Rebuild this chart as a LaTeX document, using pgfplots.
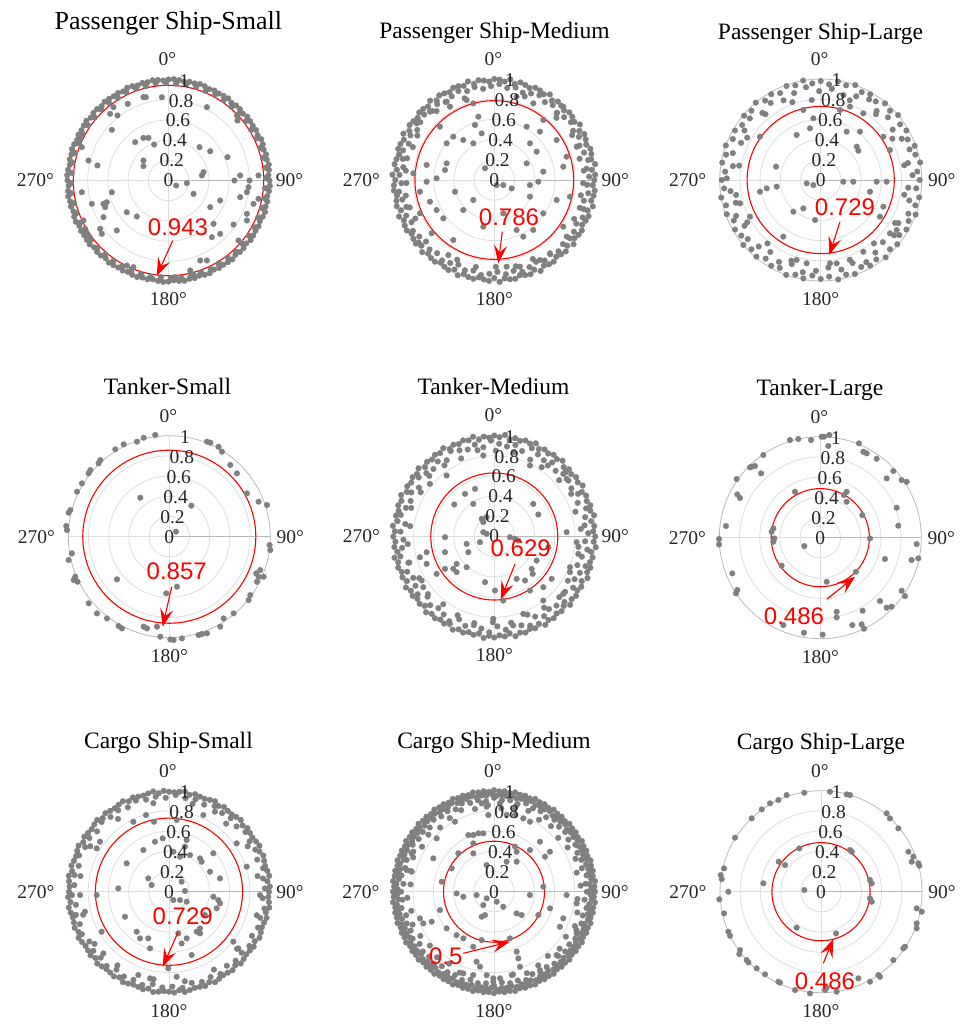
\documentclass[border=0pt]{standalone}
\usepackage{pgfplots}
\pgfplotsset{compat=1.18}
\usepgfplotslibrary{polar}
\usepackage{pgfplotstable}
\usetikzlibrary{arrows.meta}
\usepackage{fontspec}
\setmainfont{Liberation Serif}
\newfontfamily\arial{Liberation Sans}
\definecolor{dotgray}{RGB}{128,128,128}
\definecolor{gridgray}{RGB}{222,222,222}
\definecolor{axgray}{RGB}{185,185,185}
\definecolor{ticktext}{RGB}{38,38,38}

\pgfplotsset{
  pp/.style={
    width=202pt, height=202pt, scale only axis, anchor=center,
    ymin=0, ymax=1, xmin=0, xmax=360,
    xtick={0,90,180,270}, xticklabels={,,,},
    ytick={0.2,0.4,0.6,0.8}, yticklabels={,,,},
    grid=major,
    major grid style={draw=gridgray, line width=0.8pt},
    axis line style={draw=axgray, line width=0.8pt},
    major tick length=0pt,
    clip=false,
  },
  dots/.style={only marks, mark=*, mark size=2.8pt, color=dotgray, mark options={draw=none,fill=dotgray}},
  rc/.style={red, line width=1.1pt, no marks},
}
\tikzset{
  alab/.style={font=\fontsize{19.5}{20}\selectfont, text=ticktext, inner sep=0pt},
  tlab/.style={font=\fontsize{23.5}{24}\selectfont, anchor=base, inner sep=0pt},
  rlab/.style={font=\arial\fontsize{24}{24}\selectfont, text=red, inner sep=0pt},
  rarr/.style={red, line width=1.1pt, -{Stealth[length=18pt,width=13pt,inset=7pt]}},
}
\newcommand{\alabels}[2]{%
\begin{scope}[shift={(#1pt,-#2pt)}]
 \node[alab] at (-1pt,121pt) {0°};
 \node[alab] at (0pt,-119pt) {180°};
 \node[alab] at (121pt,0pt) {90°};
 \node[alab] at (-133pt,0pt) {270°};
 \node[alab] at (0pt,0pt) {0};
 \node[alab] at (3.2pt,20pt) {0.2};
 \node[alab] at (6.3pt,39.9pt) {0.4};
 \node[alab] at (9.5pt,59.9pt) {0.6};
 \node[alab] at (12.6pt,79.8pt) {0.8};
 \node[alab] at (15.8pt,99.8pt) {1};
\end{scope}}

\pgfplotstableread[row sep=\\]{a r\\0 1\\5 1\\10 1\\15 1\\20 1\\25 1\\30 1\\35 1\\40 1\\45 1\\50 1\\55 1\\60 1\\65 1\\70 1\\75 1\\80 1\\85 1\\90 1\\95 1\\100 1\\105 1\\110 1\\115 1\\120 1\\125 1\\130 1\\135 1\\140 1\\145 1\\150 1\\155 1\\160 1\\165 1\\170 1\\175 1\\180 1\\185 1\\190 1\\195 1\\200 1\\205 1\\210 1\\215 1\\220 1\\225 1\\230 1\\235 1\\240 1\\245 1\\250 1\\255 1\\260 1\\265 1\\270 1\\275 1\\280 1\\285 1\\290 1\\295 1\\300 1\\305 1\\310 1\\315 1\\320 1\\325 1\\330 1\\335 1\\340 1\\345 1\\350 1\\355 1\\360 1\\}\circangles

\begin{document}
\begin{tikzpicture}
\path[use as bounding box] (0,0) rectangle (962pt,-1025pt);

% ---------------- Passenger Ship-Small
\begin{polaraxis}[pp, at={(168.5pt,-180.5pt)}]
\addplot[dots] coordinates {(0,1)(3,.99)(6,1)(9,1.005)(12,.995)(15,1)(18,.99)(21,1)(24,1.005)(27,.99)(30,1)(33,.995)(36,1)(39,1.005)(42,.99)(45,1)(48,1)(51,.99)(54,1.005)(57,1)(60,.995)(63,1)(66,.99)(69,1)(72,1.005)(75,.995)(78,1)(81,.99)(84,1)(87,1.005)(90,1)(93,.99)(96,1)(99,1.005)(102,.995)(105,1)(108,.99)(111,1)(114,1.005)(117,.99)(120,1)(123,.995)(126,1)(129,1.005)(132,.99)(135,1)(138,1)(141,.99)(144,1.005)(147,1)(150,.995)(153,1)(156,.99)(159,1)(162,1.005)(165,.995)(168,1)(171,.99)(174,1)(177,1.005)(180,1)(183,.99)(186,1)(189,1.005)(192,.995)(195,1)(198,.99)(201,1)(204,1.005)(207,.99)(210,1)(213,.995)(216,1)(219,1.005)(222,.99)(225,1)(228,1)(231,.99)(234,1.005)(237,1)(240,.995)(243,1)(246,.99)(249,1)(252,1.005)(255,.995)(258,1)(261,.99)(264,1)(267,1.005)(270,1)(273,.99)(276,1)(279,1.005)(282,.995)(285,1)(288,.99)(291,1)(294,1.005)(297,.99)(300,1)(303,.995)(306,1)(309,1.005)(312,.99)(315,1)(318,1)(321,.99)(324,1.005)(327,1)(330,.995)(333,1)(336,.99)(339,1)(342,1.005)(345,.995)(348,1)(351,.99)(354,1)(357,1.005)
(1.5,.965)(7.5,.97)(13.5,.96)(19.5,.965)(25.5,.97)(31.5,.96)(37.5,.965)(43.5,.97)(49.5,.96)(55.5,.965)(61.5,.97)(67.5,.96)(73.5,.965)(79.5,.97)(85.5,.96)(91.5,.965)(97.5,.97)(103.5,.96)(109.5,.965)(115.5,.97)(121.5,.96)(127.5,.965)(133.5,.97)(139.5,.96)(145.5,.965)(151.5,.97)(157.5,.96)(163.5,.965)(169.5,.97)(175.5,.96)(181.5,.965)(187.5,.97)(193.5,.96)(199.5,.965)(205.5,.97)(211.5,.96)(217.5,.965)(223.5,.97)(229.5,.96)(235.5,.965)(241.5,.97)(247.5,.96)(253.5,.965)(259.5,.97)(265.5,.96)(271.5,.965)(277.5,.97)(283.5,.96)(289.5,.965)(295.5,.97)(301.5,.96)(307.5,.965)(313.5,.97)(319.5,.96)(325.5,.965)(331.5,.97)(337.5,.96)(343.5,.965)(349.5,.97)(355.5,.96)};
\addplot[dots, data cs=cart] coordinates {(-0.248,0.825)(-0.224,0.825)(-0.066,0.825)(-0.545,0.726)(-0.578,0.660)(-0.505,0.644)(-0.403,0.759)(-0.561,0.502)(-0.858,0.330)(-0.875,0.413)(-0.330,0.380)(-0.248,0.422)(-0.198,0.422)(-0.142,0.356)(-0.248,0.198)(-0.248,0.142)(-0.792,0.198)(-0.703,0.149)(0.380,0.726)(0.677,0.644)(0.683,0.594)(0.307,0.330)(0.413,0.290)(0.584,0.231)(0.347,0.083)(0.330,0.050)(0.710,0.050)(0.802,0.0)(0.891,0.050)(0.653,0.0)(0.792,-0.066)(0.776,-0.116)(0.710,-0.165)(0.891,-0.182)(0.842,-0.231)(0.512,-0.198)(0.413,-0.264)(0.776,-0.330)(0.446,-0.429)(0.644,-0.436)(0.512,-0.528)(0.429,-0.561)(0.693,-0.594)(0.776,-0.396)(0.248,-0.132)(0.182,-0.026)(0.076,-0.050)(0.314,-0.792)(0.380,-0.792)(0.495,-0.825)(0.215,-0.891)(0.248,-0.931)(0.066,-0.957)(-0.858,-0.116)(-0.759,-0.231)(-0.644,-0.231)(-0.611,-0.215)(-0.627,-0.264)(-0.561,-0.116)(-0.644,-0.363)(-0.842,-0.396)(-0.825,-0.479)(-0.677,-0.479)(-0.660,-0.528)(-0.512,-0.495)(-0.413,-0.314)(-0.314,-0.356)(-0.413,-0.842)(-0.347,-0.858)(-0.792,-0.545)};
\addplot[rc] table[x=a, y expr=0.943*\thisrow{r}] {\circangles};
\end{polaraxis}

% ---------------- Passenger Ship-Medium
\begin{polaraxis}[pp, at={(494.3pt,-180pt)}]
\addplot[dots] coordinates {(0,.99)(3,1)(6,.97)(9,1.01)(12,.98)(15,.995)(18,1)(21,.975)(24,.99)(27,1)(30,.97)(33,1.01)(36,.98)(39,.995)(42,1)(45,.975)(48,.99)(51,1)(54,.97)(57,1.01)(60,.98)(63,.995)(66,1)(69,.975)(72,.99)(75,1)(78,.97)(81,1.01)(84,.98)(87,.995)(90,1)(93,.975)(96,.99)(99,1)(102,.97)(105,1.01)(108,.98)(111,.995)(114,1)(117,.975)(120,.99)(123,1)(126,.97)(129,1.01)(132,.98)(135,.995)(138,1)(141,.975)(144,.99)(147,1)(150,.97)(153,1.01)(156,.98)(159,.995)(162,1)(165,.975)(168,.99)(171,1)(174,.97)(177,1.01)(180,.98)(183,.995)(186,1)(189,.975)(192,.99)(195,1)(198,.97)(201,1.01)(204,.98)(207,.995)(210,1)(213,.975)(216,.99)(219,1)(222,.97)(225,1.01)(228,.98)(231,.995)(234,1)(237,.975)(240,.99)(243,1)(246,.97)(249,1.01)(252,.98)(255,.995)(258,1)(261,.975)(264,.99)(267,1)(270,.97)(273,1.01)(276,.98)(279,.995)(282,1)(285,.975)(288,.99)(291,1)(294,.97)(297,1.01)(300,.98)(303,.995)(306,1)(309,.975)(312,.99)(315,1)(318,.97)(321,1.01)(324,.98)(327,.995)(330,1)(333,.975)(336,.99)(339,1)(342,.97)(345,1.01)(348,.98)(351,.995)(354,1)(357,.975)
(2,.94)(7,.92)(12,.95)(17,.93)(22,.91)(27,.94)(32,.92)(37,.95)(42,.93)(47,.91)(52,.94)(57,.92)(62,.95)(67,.93)(72,.91)(77,.94)(82,.92)(87,.95)(92,.93)(97,.91)(102,.94)(107,.92)(112,.95)(117,.93)(122,.91)(127,.94)(132,.92)(137,.95)(142,.93)(147,.91)(152,.94)(157,.92)(162,.95)(167,.93)(172,.91)(177,.94)(182,.92)(187,.95)(192,.93)(197,.91)(202,.94)(207,.92)(212,.95)(217,.93)(222,.91)(227,.94)(232,.92)(237,.95)(242,.93)(247,.91)(252,.94)(257,.92)(262,.95)(267,.93)(272,.91)(277,.94)(282,.92)(287,.95)(292,.93)(297,.91)(302,.94)(307,.92)(312,.95)(317,.93)(322,.91)(327,.94)(332,.92)(337,.95)(342,.93)(347,.91)(352,.94)(357,.92)
(150,.88)(158,.87)(166,.89)(174,.88)(182,.87)(190,.89)(198,.88)(206,.87)(334,.88)(342,.89)(350,.87)(358,.88)(6,.89)(14,.87)(22,.88)(30,.89)(245,.87)(258,.88)(271,.86)(284,.88)(296,.87)(45,.87)(70,.88)(110,.86)(130,.89)};
\addplot[dots, data cs=cart] coordinates {(-0.274,0.792)(-0.208,0.759)(-0.472,0.776)(-0.439,0.726)(-0.637,0.677)(-0.769,0.561)(-0.538,0.528)(-0.406,0.429)(-0.472,0.363)(-0.307,0.396)(-0.208,0.363)(-0.125,0.462)(-0.158,0.627)(-0.191,0.545)(-0.670,0.149)(-0.472,0.165)(-0.488,0.099)(-0.571,0.017)(-0.670,-0.017)(-0.802,0.066)(-0.736,-0.116)(-0.389,-0.116)(-0.092,0.116)(0.023,-0.050)(0.089,-0.050)(0.172,-0.083)(0.353,-0.050)(0.436,-0.017)(0.485,0.083)(0.683,0.132)(0.716,0.231)(0.419,0.281)(0.320,0.165)(0.353,0.363)(0.617,0.396)(0.452,0.479)(0.485,0.594)(0.320,0.528)(0.221,0.825)(0.386,0.759)(0.617,0.660)(0.683,0.726)(-0.637,-0.215)(-0.571,-0.297)(-0.505,-0.380)(-0.307,-0.297)(-0.208,-0.198)(-0.109,-0.462)(-0.406,-0.594)(-0.455,-0.743)(-0.620,-0.528)(-0.736,-0.330)(-0.75,-0.62)(0.089,-0.330)(0.221,-0.495)(0.287,-0.561)(0.386,-0.495)(0.485,-0.330)(0.617,-0.198)(0.749,-0.165)(0.683,-0.462)(0.749,-0.578)(0.551,-0.726)(0.452,-0.792)(0.254,-0.858)(0.122,-0.858)(0.353,-0.165)};
\addplot[rc] table[x=a, y expr=0.786*\thisrow{r}] {\circangles};
\end{polaraxis}

% ---------------- Passenger Ship-Large
\begin{polaraxis}[pp, at={(820.7pt,-180pt)}]
\addplot[dots] coordinates {(0,.98)(5,.96)(10,1)(15,.97)(20,.99)(25,.95)(30,.98)(35,.96)(40,1)(45,.97)(50,.99)(55,.95)(60,.98)(65,.96)(70,1)(75,.97)(80,.99)(85,.95)(90,.98)(95,.96)(100,1)(105,.97)(110,.99)(115,.95)(120,.98)(125,.96)(130,1)(135,.97)(140,.99)(145,.95)(150,.98)(155,.96)(160,1)(165,.97)(170,.99)(175,.95)(180,.98)(185,.96)(190,1)(195,.97)(200,.99)(205,.95)(210,.98)(215,.96)(220,1)(225,.97)(230,.99)(235,.95)(240,.98)(245,.96)(250,1)(255,.97)(260,.99)(265,.95)(270,.98)(275,.96)(280,1)(285,.97)(290,.99)(295,.95)(300,.98)(305,.96)(310,1)(315,.97)(320,.99)(325,.95)(330,.98)(335,.96)(340,1)(345,.97)(350,.99)(355,.95)
(3,.91)(11,.88)(19,.93)(27,.9)(35,.87)(43,.91)(51,.88)(59,.93)(67,.9)(75,.87)(83,.91)(91,.88)(99,.93)(107,.9)(115,.87)(123,.91)(131,.88)(139,.93)(147,.9)(155,.87)(163,.91)(171,.88)(179,.93)(187,.9)(195,.87)(203,.91)(211,.88)(219,.93)(227,.9)(235,.87)(243,.91)(251,.88)(259,.93)(267,.9)(275,.87)(283,.91)(291,.88)(299,.93)(307,.9)(315,.87)(323,.91)(331,.88)(339,.93)(347,.9)(355,.87)
(10,.84)(30,.82)(50,.85)(70,.84)(110,.82)(130,.85)(150,.84)(170,.82)(190,.85)(210,.84)(230,.82)(250,.85)(290,.84)(310,.82)(330,.85)(350,.84)};
\addplot[dots, data cs=cart] coordinates {(-0.089,0.792)(-0.172,0.693)(-0.073,0.611)(-0.106,0.512)(-0.238,0.446)(-0.442,0.132)(-0.601,0.429)(-0.535,-0.083)(-0.601,-0.116)(-0.436,-0.066)(-0.139,-0.033)(-0.073,-0.050)(-0.271,-0.314)(-0.172,-0.281)(-0.056,-0.396)(0.224,-0.017)(0.323,-0.017)(0.554,-0.017)(0.653,-0.017)(0.488,-0.116)(0.356,0.330)(0.373,0.290)(0.257,0.479)(0.389,0.479)(0.191,0.693)(0.290,0.726)(0.422,0.660)(0.620,0.429)(0.686,0.297)(0.092,-0.825)(0.158,-0.825)(-0.238,-0.792)(-0.139,-0.825)(-0.370,-0.561)(-0.700,-0.363)(-0.799,-0.231)(0.620,-0.264)(0.587,-0.363)(0.686,-0.528)(0.752,-0.495)(0.422,-0.710)};
\addplot[rc] table[x=a, y expr=0.729*\thisrow{r}] {\circangles};
\end{polaraxis}

% ---------------- Tanker-Small
\begin{polaraxis}[pp, at={(169.3pt,-536.7pt)}]
\addplot[dots, data cs=cart] coordinates {(-0.139,1.007)(-0.254,0.980)(-0.320,0.941)(-0.452,0.914)(-0.535,0.865)(-0.683,0.759)(-0.700,0.726)(-0.782,0.660)(-0.799,0.627)(-0.865,0.528)(-0.914,0.446)(-0.980,0.264)(-0.997,0.238)(-1.020,0.106)(-1.013,0.066)(-0.964,-0.165)(-0.997,-0.231)(-0.931,-0.396)(-0.947,-0.429)(-0.908,-0.446)(-0.799,-0.660)(-0.716,-0.759)(-0.617,-0.809)(-0.502,-0.884)(-0.469,-0.908)(-0.254,-0.891)(-0.221,-0.908)(-0.122,-0.891)(-0.089,-0.990)(0.010,-1.017)(0.043,-1.023)(0.125,-1.007)(0.290,-0.974)(0.323,-0.964)(0.373,-0.957)(0.505,-0.891)(0.538,-0.809)(0.637,-0.759)(0.785,-0.627)(0.802,-0.578)(0.868,-0.446)(0.884,-0.396)(0.934,-0.396)(0.861,-0.363)(0.901,-0.330)(1.000,-0.132)(0.993,-0.083)(0.373,0.941)(0.406,0.931)(0.488,0.891)(0.521,0.842)(0.604,0.710)(0.670,0.627)(0.769,0.429)(0.884,0.347)(0.967,0.314)(-0.287,0.386)(0.218,0.307)(0.066,0.050)(-0.518,-0.422)(0.076,-0.495)(-0.030,-0.561)};
\addplot[rc] table[x=a, y expr=0.857*\thisrow{r}] {\circangles};
\end{polaraxis}

% ---------------- Tanker-Medium
\begin{polaraxis}[pp, at={(494.3pt,-536.5pt)}]
\addplot[dots] coordinates {(0,1)(3,.98)(6,.995)(9,.97)(12,1.01)(15,.985)(18,1)(21,.98)(24,.995)(27,.97)(30,1.01)(33,.985)(36,1)(39,.98)(42,.995)(45,.97)(48,1.01)(51,.985)(54,1)(57,.98)(60,.995)(63,.97)(66,1.01)(69,.985)(72,1)(75,.98)(78,.995)(81,.97)(84,1.01)(87,.985)(90,1)(93,.98)(96,.995)(99,.97)(102,1.01)(105,.985)(108,1)(111,.98)(114,.995)(117,.97)(120,1.01)(123,.985)(126,1)(129,.98)(132,.995)(135,.97)(138,1.01)(141,.985)(144,1)(147,.98)(150,.995)(153,.97)(156,1.01)(159,.985)(162,1)(165,.98)(168,.995)(171,.97)(174,1.01)(177,.985)(180,1)(183,.98)(186,.995)(189,.97)(192,1.01)(195,.985)(198,1)(201,.98)(204,.995)(207,.97)(210,1.01)(213,.985)(216,1)(219,.98)(222,.995)(225,.97)(228,1.01)(231,.985)(234,1)(237,.98)(240,.995)(243,.97)(246,1.01)(249,.985)(252,1)(255,.98)(258,.995)(261,.97)(264,1.01)(267,.985)(270,1)(273,.98)(276,.995)(279,.97)(282,1.01)(285,.985)(288,1)(291,.98)(294,.995)(297,.97)(300,1.01)(303,.985)(306,1)(309,.98)(312,.995)(315,.97)(318,1.01)(321,.985)(324,1)(327,.98)(330,.995)(333,.97)(336,1.01)(339,.985)(342,1)(345,.98)(348,.995)(351,.97)(354,1.01)(357,.985)
(2,.93)(7,.9)(12,.92)(17,.95)(22,.89)(27,.93)(32,.9)(37,.92)(42,.95)(47,.89)(52,.93)(57,.9)(62,.92)(67,.95)(72,.89)(77,.93)(82,.9)(87,.92)(92,.95)(97,.89)(102,.93)(107,.9)(112,.92)(117,.95)(122,.89)(127,.93)(132,.9)(137,.92)(142,.95)(147,.89)(152,.93)(157,.9)(162,.92)(167,.95)(172,.89)(177,.93)(182,.9)(187,.92)(192,.95)(197,.89)(202,.93)(207,.9)(212,.92)(217,.95)(222,.89)(227,.93)(232,.9)(237,.92)(242,.95)(247,.89)(252,.93)(257,.9)(262,.92)(267,.95)(272,.89)(277,.93)(282,.9)(287,.92)(292,.95)(297,.89)(302,.93)(307,.9)(312,.92)(317,.95)(322,.89)(327,.93)(332,.9)(337,.92)(342,.95)(347,.89)(352,.93)(357,.9)
(5,.86)(17,.84)(29,.87)(41,.85)(53,.88)(65,.84)(77,.86)(89,.85)(101,.87)(113,.84)(125,.86)(137,.88)(149,.85)(161,.87)(173,.84)(185,.86)(197,.88)(209,.85)(221,.87)(233,.84)(245,.86)(257,.88)(269,.85)(281,.87)(293,.84)(305,.86)(317,.88)(329,.85)(341,.87)(353,.84)};
\addplot[dots, data cs=cart] coordinates {(-0.109,0.802)(0.353,0.703)(0.469,0.686)(0.683,0.620)(0.716,0.571)(-0.637,0.521)(-0.472,0.604)(-0.290,0.422)(-0.191,0.472)(-0.396,0.317)(-0.208,0.323)(-0.076,0.191)(-0.125,0.175)(-0.109,0.142)(0.386,0.323)(0.436,0.218)(-0.109,0.043)(-0.076,0.026)(0.155,-0.007)(0.205,-0.023)(0.238,-0.040)(-0.142,-0.056)(-0.274,-0.073)(-0.488,-0.007)(-0.488,-0.155)(-0.257,-0.155)(-0.274,-0.304)(-0.373,-0.271)(-0.406,-0.320)(-0.373,-0.353)(-0.488,-0.320)(-0.670,-0.155)(-0.736,-0.205)(-0.670,-0.271)(-0.719,-0.436)(-0.703,-0.502)(-0.571,-0.370)(-0.092,-0.452)(0.007,-0.535)(0.089,-0.634)(0.221,-0.419)(0.304,-0.436)(0.370,-0.320)(0.380,-0.370)(0.353,-0.535)(0.485,-0.502)(0.419,-0.238)(0.535,-0.106)(0.716,0.043)(0.815,-0.056)(0.832,-0.172)(0.749,-0.304)(0.749,-0.353)(0.683,-0.568)(0.485,-0.634)(-0.010,-0.815)(0.287,-0.766)(0.568,-0.419)};
\addplot[rc] table[x=a, y expr=0.629*\thisrow{r}] {\circangles};
\end{polaraxis}

% ---------------- Tanker-Large
\begin{polaraxis}[pp, at={(820.3pt,-537.7pt)}]
\addplot[dots, data cs=cart] coordinates {(-0.300,0.967)(-0.218,0.977)(-0.092,0.967)(0.013,1.000)(0.036,1.000)(0.089,1.017)(0.079,0.908)(0.383,0.934)(0.426,0.851)(0.459,0.835)(0.558,0.782)(0.723,0.660)(0.657,0.587)(0.805,0.571)(0.855,0.554)(0.756,0.297)(0.772,0.119)(0.954,-0.063)(0.970,-0.205)(0.904,-0.221)(0.640,-0.211)(0.838,-0.578)(0.805,-0.525)(0.657,-0.693)(0.706,-0.683)(0.591,-0.627)(0.419,-0.723)(0.409,-0.858)(0.432,-0.901)(0.317,-0.865)(0.162,-0.733)(0.162,-0.789)(0.023,-0.960)(-0.162,-0.941)(-0.366,-0.865)(0.063,-0.436)(0.353,-0.337)(0.416,0.224)(0.492,-0.007)(0.261,0.455)(0.234,0.422)(0.261,0.356)(-0.251,0.455)(-0.465,0.092)(-0.482,0.059)(-0.455,-0.007)(-0.465,-0.040)(-0.383,-0.277)(-0.158,-0.083)(-0.587,0.637)(-0.564,0.818)(-0.680,0.703)(-0.696,0.696)(-0.647,0.710)(-0.828,0.581)(-0.822,0.429)(-0.795,0.393)(-0.934,0.116)(-1.003,-0.013)(-1.003,-0.066)(-0.871,-0.353)(-0.822,-0.518)(-0.835,-0.551)};
\addplot[rc] table[x=a, y expr=0.486*\thisrow{r}] {\circangles};
\end{polaraxis}

% ---------------- Cargo Ship-Small
\begin{polaraxis}[pp, at={(169pt,-891.7pt)}]
\addplot[dots] coordinates {(0,.99)(3,1)(6,.98)(9,1.005)(12,.995)(15,.985)(18,.99)(21,1)(24,.98)(27,1.005)(30,.995)(33,.985)(36,.99)(39,1)(42,.98)(45,1.005)(48,.995)(51,.985)(54,.99)(57,1)(60,.98)(63,1.005)(66,.995)(69,.985)(72,.99)(75,1)(78,.98)(81,1.005)(84,.995)(87,.985)(90,.99)(93,1)(96,.98)(99,1.005)(102,.995)(105,.985)(108,.99)(111,1)(114,.98)(117,1.005)(120,.995)(123,.985)(126,.99)(129,1)(132,.98)(135,1.005)(138,.995)(141,.985)(144,.99)(147,1)(150,.98)(153,1.005)(156,.995)(159,.985)(162,.99)(165,1)(168,.98)(171,1.005)(174,.995)(177,.985)(180,.99)(183,1)(186,.98)(189,1.005)(192,.995)(195,.985)(198,.99)(201,1)(204,.98)(207,1.005)(210,.995)(213,.985)(216,.99)(219,1)(222,.98)(225,1.005)(228,.995)(231,.985)(234,.99)(237,1)(240,.98)(243,1.005)(246,.995)(249,.985)(252,.99)(255,1)(258,.98)(261,1.005)(264,.995)(267,.985)(270,.99)(273,1)(276,.98)(279,1.005)(282,.995)(285,.985)(288,.99)(291,1)(294,.98)(297,1.005)(300,.995)(303,.985)(306,.99)(309,1)(312,.98)(315,1.005)(318,.995)(321,.985)(324,.99)(327,1)(330,.98)(333,1.005)(336,.995)(339,.985)(342,.99)(345,1)(348,.98)(351,1.005)(354,.995)(357,.985)
(2,.95)(8,.94)(14,.96)(20,.93)(26,.95)(32,.94)(38,.96)(44,.93)(50,.95)(56,.94)(62,.96)(68,.93)(74,.95)(80,.94)(86,.96)(92,.93)(98,.95)(104,.94)(110,.96)(116,.93)(122,.95)(128,.94)(134,.96)(140,.93)(146,.95)(152,.94)(158,.96)(164,.93)(170,.95)(176,.94)(182,.96)(188,.93)(194,.95)(200,.94)(206,.96)(212,.93)(218,.95)(224,.94)(230,.96)(236,.93)(242,.95)(248,.94)(254,.96)(260,.93)(266,.95)(272,.94)(278,.96)(284,.93)(290,.95)(296,.94)(302,.96)(308,.93)(314,.95)(320,.94)(326,.96)(332,.93)(338,.95)(344,.94)(350,.96)(356,.93)
(10,.89)(30,.9)(50,.88)(75,.9)(100,.89)(125,.88)(150,.9)(170,.89)(195,.88)(215,.9)(235,.89)(260,.88)(280,.9)(300,.89)(320,.88)(345,.9)};
\addplot[dots, data cs=cart] coordinates {(-0.228,0.759)(-0.149,0.693)(0.076,0.710)(0.340,0.759)(0.455,0.792)(-0.353,0.693)(-0.683,0.495)(-0.716,0.429)(-0.139,0.495)(-0.063,0.528)(0.175,0.512)(0.158,0.446)(-0.254,0.413)(0.043,0.396)(0.109,0.347)(0.208,0.363)(0.307,0.330)(0.323,0.297)(0.439,0.380)(0.670,0.479)(0.769,0.248)(0.505,0.132)(0.406,0.198)(-0.419,0.281)(-0.502,0.033)(-0.205,0.132)(-0.172,0.066)(0.125,0.099)(0.158,0.007)(0.043,-0.083)(0.109,-0.083)(0.175,-0.099)(0.439,-0.050)(0.488,-0.083)(0.505,-0.116)(0.472,-0.165)(0.356,-0.231)(0.274,-0.396)(0.307,-0.413)(0.901,-0.033)(-0.716,-0.033)(-0.881,-0.033)(-0.832,-0.198)(-0.436,-0.248)(-0.320,-0.396)(-0.287,-0.462)(-0.205,-0.462)(-0.188,-0.561)(0.092,-0.413)(0.175,-0.462)(0.125,-0.512)(0.307,-0.363)(0.637,-0.495)(0.686,-0.561)(0.224,-0.627)(0.076,-0.842)(-0.007,-0.759)(-0.304,-0.825)(-0.188,-0.858)(-0.650,-0.611)(-0.667,-0.396)};
\addplot[rc] table[x=a, y expr=0.729*\thisrow{r}] {\circangles};
\end{polaraxis}

% ---------------- Cargo Ship-Medium
\begin{polaraxis}[pp, at={(494pt,-891.7pt)}]
\addplot[dots] coordinates {(0,1)(3,.995)(6,1.005)(9,.99)(12,1)(15,.995)(18,1.005)(21,.99)(24,1)(27,.995)(30,1.005)(33,.99)(36,1)(39,.995)(42,1.005)(45,.99)(48,1)(51,.995)(54,1.005)(57,.99)(60,1)(63,.995)(66,1.005)(69,.99)(72,1)(75,.995)(78,1.005)(81,.99)(84,1)(87,.995)(90,1.005)(93,.99)(96,1)(99,.995)(102,1.005)(105,.99)(108,1)(111,.995)(114,1.005)(117,.99)(120,1)(123,.995)(126,1.005)(129,.99)(132,1)(135,.995)(138,1.005)(141,.99)(144,1)(147,.995)(150,1.005)(153,.99)(156,1)(159,.995)(162,1.005)(165,.99)(168,1)(171,.995)(174,1.005)(177,.99)(180,1)(183,.995)(186,1.005)(189,.99)(192,1)(195,.995)(198,1.005)(201,.99)(204,1)(207,.995)(210,1.005)(213,.99)(216,1)(219,.995)(222,1.005)(225,.99)(228,1)(231,.995)(234,1.005)(237,.99)(240,1)(243,.995)(246,1.005)(249,.99)(252,1)(255,.995)(258,1.005)(261,.99)(264,1)(267,.995)(270,1.005)(273,.99)(276,1)(279,.995)(282,1.005)(285,.99)(288,1)(291,.995)(294,1.005)(297,.99)(300,1)(303,.995)(306,1.005)(309,.99)(312,1)(315,.995)(318,1.005)(321,.99)(324,1)(327,.995)(330,1.005)(333,.99)(336,1)(339,.995)(342,1.005)(345,.99)(348,1)(351,.995)(354,1.005)(357,.99)
(1.5,.96)(4.5,.95)(7.5,.97)(10.5,.955)(13.5,.96)(16.5,.95)(19.5,.97)(22.5,.955)(25.5,.96)(28.5,.95)(31.5,.97)(34.5,.955)(37.5,.96)(40.5,.95)(43.5,.97)(46.5,.955)(49.5,.96)(52.5,.95)(55.5,.97)(58.5,.955)(61.5,.96)(64.5,.95)(67.5,.97)(70.5,.955)(73.5,.96)(76.5,.95)(79.5,.97)(82.5,.955)(85.5,.96)(88.5,.95)(91.5,.97)(94.5,.955)(97.5,.96)(100.5,.95)(103.5,.97)(106.5,.955)(109.5,.96)(112.5,.95)(115.5,.97)(118.5,.955)(121.5,.96)(124.5,.95)(127.5,.97)(130.5,.955)(133.5,.96)(136.5,.95)(139.5,.97)(142.5,.955)(145.5,.96)(148.5,.95)(151.5,.97)(154.5,.955)(157.5,.96)(160.5,.95)(163.5,.97)(166.5,.955)(169.5,.96)(172.5,.95)(175.5,.97)(178.5,.955)(181.5,.96)(184.5,.95)(187.5,.97)(190.5,.955)(193.5,.96)(196.5,.95)(199.5,.97)(202.5,.955)(205.5,.96)(208.5,.95)(211.5,.97)(214.5,.955)(217.5,.96)(220.5,.95)(223.5,.97)(226.5,.955)(229.5,.96)(232.5,.95)(235.5,.97)(238.5,.955)(241.5,.96)(244.5,.95)(247.5,.97)(250.5,.955)(253.5,.96)(256.5,.95)(259.5,.97)(262.5,.955)(265.5,.96)(268.5,.95)(271.5,.97)(274.5,.955)(277.5,.96)(280.5,.95)(283.5,.97)(286.5,.955)(289.5,.96)(292.5,.95)(295.5,.97)(298.5,.955)(301.5,.96)(304.5,.95)(307.5,.97)(310.5,.955)(313.5,.96)(316.5,.95)(319.5,.97)(322.5,.955)(325.5,.96)(328.5,.95)(331.5,.97)(334.5,.955)(337.5,.96)(340.5,.95)(343.5,.97)(346.5,.955)(349.5,.96)(352.5,.95)(355.5,.97)(358.5,.955)
(0,.92)(5,.91)(10,.93)(15,.9)(20,.92)(25,.91)(30,.93)(35,.9)(40,.92)(45,.91)(50,.93)(55,.9)(60,.92)(65,.91)(70,.93)(75,.9)(80,.92)(85,.91)(90,.93)(95,.9)(100,.92)(105,.91)(110,.93)(115,.9)(120,.92)(125,.91)(130,.93)(135,.9)(140,.92)(145,.91)(150,.93)(155,.9)(160,.92)(165,.91)(170,.93)(175,.9)(180,.92)(185,.91)(190,.93)(195,.9)(200,.92)(205,.91)(210,.93)(215,.9)(220,.92)(225,.91)(230,.93)(235,.9)(240,.92)(245,.91)(250,.93)(255,.9)(260,.92)(265,.91)(270,.93)(275,.9)(280,.92)(285,.91)(290,.93)(295,.9)(300,.92)(305,.91)(310,.93)(315,.9)(320,.92)(325,.91)(330,.93)(335,.9)(340,.92)(345,.91)(350,.93)(355,.9)
(4,.86)(13,.84)(22,.87)(31,.85)(40,.83)(49,.86)(58,.84)(67,.87)(76,.85)(85,.83)(94,.86)(103,.84)(112,.87)(121,.85)(130,.83)(139,.86)(148,.84)(157,.87)(166,.85)(175,.83)(184,.86)(193,.84)(202,.87)(211,.85)(220,.83)(229,.86)(238,.84)(247,.87)(256,.85)(265,.83)(274,.86)(283,.84)(292,.87)(301,.85)(310,.83)(319,.86)(328,.84)(337,.87)(346,.85)(355,.83)};
\addplot[dots, data cs=cart] coordinates {(-0.122,0.875)(-0.073,0.842)(0.059,0.875)(0.224,0.858)(-0.056,0.759)(0.125,0.759)(0.208,0.759)(0.290,0.726)(0.356,0.693)(-0.386,0.693)(-0.568,0.528)(-0.254,0.561)(-0.205,0.561)(-0.155,0.578)(-0.106,0.578)(-0.205,0.479)(0.208,0.446)(0.224,0.396)(0.356,0.413)(0.455,0.495)(0.554,0.396)(0.505,0.347)(0.125,0.297)(0.224,0.297)(-0.073,0.264)(-0.205,0.380)(-0.353,0.380)(-0.419,0.231)(-0.601,0.330)(-0.799,0.396)(-0.865,0.215)(-0.815,0.198)(-0.518,0.099)(-0.370,-0.017)(-0.304,-0.050)(-0.172,-0.033)(-0.073,-0.066)(0.026,-0.099)(0.092,-0.149)(-0.106,-0.132)(-0.089,-0.231)(-0.122,-0.248)(-0.535,-0.182)(-0.733,-0.264)(-0.700,-0.314)(-0.617,-0.297)(-0.469,-0.363)(-0.370,-0.429)(-0.304,-0.462)(-0.122,-0.479)(0.158,-0.462)(0.224,-0.215)(0.274,-0.231)(0.439,-0.231)(0.554,-0.165)(0.686,-0.264)(0.719,-0.033)(0.818,-0.116)(0.653,-0.347)(0.818,-0.413)(0.356,-0.033)(0.488,0.050)(0.224,-0.594)(0.241,-0.660)(0.257,-0.743)(-0.007,-0.891)(-0.007,-0.858)(-0.304,-0.809)(-0.172,-0.693)(-0.139,-0.743)(0.175,-0.825)(0.455,-0.776)(0.620,-0.627)(-0.205,-0.545)};
\addplot[rc] table[x=a, y expr=0.5*\thisrow{r}] {\circangles};
\end{polaraxis}

% ---------------- Cargo Ship-Large
\begin{polaraxis}[pp, at={(821pt,-891.7pt)}]
\addplot[dots, data cs=cart] coordinates {(-0.165,0.980)(0.089,0.990)(0.254,0.964)(0.287,0.957)(-0.340,0.957)(-0.422,0.908)(-0.505,0.875)(-0.587,0.815)(-0.686,0.726)(-0.851,0.535)(-0.960,0.231)(-0.993,0.165)(-0.983,0.125)(-0.917,0.000)(-1.007,-0.076)(-0.960,-0.215)(-0.917,-0.396)(-0.901,-0.436)(-0.802,-0.578)(-0.809,-0.617)(-0.736,-0.677)(-0.719,-0.700)(-0.637,-0.759)(-0.554,-0.818)(-0.422,-0.891)(-0.406,-0.901)(-0.257,-0.974)(-0.109,-1.007)(0.040,-0.974)(0.056,-0.950)(0.155,-0.990)(0.370,-0.858)(0.485,-0.891)(0.568,-0.825)(0.584,-0.842)(0.716,-0.677)(0.815,-0.561)(0.832,-0.545)(0.947,-0.314)(0.947,-0.363)(0.997,-0.198)(0.947,-0.165)(0.898,0.297)(0.914,0.347)(0.974,0.257)(0.964,0.281)(0.865,0.396)(0.766,0.627)(0.683,0.726)(0.650,0.776)(-0.165,0.017)(-0.241,-0.356)(-0.571,0.083)(-0.419,0.297)(-0.356,0.264)(-0.215,0.429)(0.287,0.413)(0.304,0.396)(0.485,0.116)(0.502,0.083)(0.485,-0.066)(0.502,-0.099)(0.149,-0.413)};
\addplot[rc] table[x=a, y expr=0.486*\thisrow{r}] {\circangles};
\end{polaraxis}

% ---------------- labels
\alabels{168.5}{180.5}\alabels{494.3}{180}\alabels{820.7}{180}
\alabels{169.3}{536.7}\alabels{494.3}{536.5}\alabels{820.3}{537.7}
\alabels{169}{891.7}\alabels{494}{891.7}\alabels{821}{891.7}

\node[tlab, font=\fontsize{26}{26}\selectfont] at (168.3pt,-29.3pt) {Passenger Ship-Small};
\node[tlab] at (494.5pt,-38.3pt) {Passenger Ship-Medium};
\node[tlab] at (820.5pt,-39.3pt) {Passenger Ship-Large};
\node[tlab] at (167.5pt,-394pt) {Tanker-Small};
\node[tlab] at (493.5pt,-394pt) {Tanker-Medium};
\node[tlab] at (820pt,-395pt) {Tanker-Large};
\node[tlab] at (168.5pt,-748.3pt) {Cargo Ship-Small};
\node[tlab] at (494pt,-748.5pt) {Cargo Ship-Medium};
\node[tlab] at (821pt,-749pt) {Cargo Ship-Large};

\node[rlab] at (178pt,-227pt) {0.943};
\draw[rarr] (172.7pt,-240.7pt) -- (156.7pt,-276pt);
\node[rlab] at (509pt,-217pt) {0.786};
\draw[rarr] (502.3pt,-231.7pt) -- (498.3pt,-263.3pt);
\node[rlab] at (845pt,-207pt) {0.729};
\draw[rarr] (840pt,-221.7pt) -- (829.3pt,-255pt);
\node[rlab] at (176.7pt,-571.7pt) {0.857};
\draw[rarr] (171.7pt,-586.7pt) -- (162.7pt,-626.7pt);
\node[rlab] at (520.7pt,-548.3pt) {0.629};
\draw[rarr] (515pt,-564pt) -- (500.7pt,-599.3pt);
\node[rlab] at (794pt,-616.7pt) {0.486};
\draw[rarr] (826.7pt,-599.3pt) -- (855pt,-576.7pt);
\node[rlab] at (182.7pt,-916.7pt) {0.729};
\draw[rarr] (178.3pt,-931.7pt) -- (162.7pt,-966.7pt);
\node[rlab] at (445.7pt,-956.7pt) {0.5};
\draw[rarr] (463.3pt,-953.3pt) -- (510pt,-941.7pt);
\node[rlab] at (825pt,-981.7pt) {0.486};
\draw[rarr] (823.3pt,-963.3pt) -- (833.3pt,-939pt);
\end{tikzpicture}
\end{document}
